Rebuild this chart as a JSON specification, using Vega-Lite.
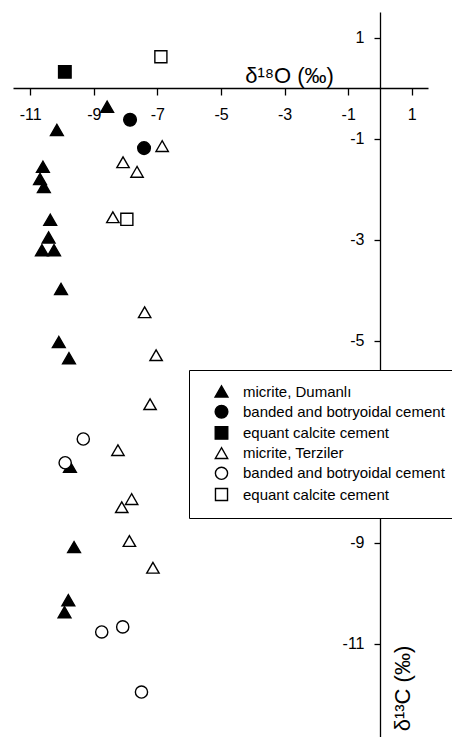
{
  "$schema": "https://vega.github.io/schema/vega-lite/v6.json",
  "autosize": {"type": "none"},
  "padding": {"left": 13, "top": 12, "right": 24, "bottom": 0},
  "width": 415,
  "height": 725,
  "background": "white",
  "config": {
    "font": "Liberation Sans",
    "view": {"stroke": null}
  },
  "data": {
    "values": [
      {"d18O": -8.58, "d13C": -0.37, "type": "micrite, Dumanlı"},
      {"d18O": -10.16, "d13C": -0.83, "type": "micrite, Dumanlı"},
      {"d18O": -10.6, "d13C": -1.56, "type": "micrite, Dumanlı"},
      {"d18O": -10.69, "d13C": -1.8, "type": "micrite, Dumanlı"},
      {"d18O": -10.57, "d13C": -1.96, "type": "micrite, Dumanlı"},
      {"d18O": -10.37, "d13C": -2.61, "type": "micrite, Dumanlı"},
      {"d18O": -10.42, "d13C": -2.96, "type": "micrite, Dumanlı"},
      {"d18O": -10.63, "d13C": -3.21, "type": "micrite, Dumanlı"},
      {"d18O": -10.25, "d13C": -3.21, "type": "micrite, Dumanlı"},
      {"d18O": -10.03, "d13C": -3.98, "type": "micrite, Dumanlı"},
      {"d18O": -10.1, "d13C": -5.03, "type": "micrite, Dumanlı"},
      {"d18O": -9.78, "d13C": -5.35, "type": "micrite, Dumanlı"},
      {"d18O": -9.75, "d13C": -7.5, "type": "micrite, Dumanlı"},
      {"d18O": -9.62, "d13C": -9.09, "type": "micrite, Dumanlı"},
      {"d18O": -9.8, "d13C": -10.14, "type": "micrite, Dumanlı"},
      {"d18O": -9.92, "d13C": -10.38, "type": "micrite, Dumanlı"},
      {"d18O": -7.86, "d13C": -0.63, "type": "banded and botryoidal cement (Dumanlı)"},
      {"d18O": -7.42, "d13C": -1.19, "type": "banded and botryoidal cement (Dumanlı)"},
      {"d18O": -9.91, "d13C": 0.32, "type": "equant calcite cement (Dumanlı)"},
      {"d18O": -6.85, "d13C": -1.15, "type": "micrite, Terziler"},
      {"d18O": -8.08, "d13C": -1.47, "type": "micrite, Terziler"},
      {"d18O": -7.64, "d13C": -1.66, "type": "micrite, Terziler"},
      {"d18O": -8.4, "d13C": -2.56, "type": "micrite, Terziler"},
      {"d18O": -7.4, "d13C": -4.44, "type": "micrite, Terziler"},
      {"d18O": -7.04, "d13C": -5.29, "type": "micrite, Terziler"},
      {"d18O": -7.23, "d13C": -6.26, "type": "micrite, Terziler"},
      {"d18O": -8.24, "d13C": -7.17, "type": "micrite, Terziler"},
      {"d18O": -7.81, "d13C": -8.14, "type": "micrite, Terziler"},
      {"d18O": -8.12, "d13C": -8.3, "type": "micrite, Terziler"},
      {"d18O": -7.88, "d13C": -8.97, "type": "micrite, Terziler"},
      {"d18O": -7.14, "d13C": -9.5, "type": "micrite, Terziler"},
      {"d18O": -9.33, "d13C": -6.95, "type": "banded and botryoidal cement (Terziler)"},
      {"d18O": -9.9, "d13C": -7.42, "type": "banded and botryoidal cement (Terziler)"},
      {"d18O": -8.75, "d13C": -10.77, "type": "banded and botryoidal cement (Terziler)"},
      {"d18O": -8.09, "d13C": -10.67, "type": "banded and botryoidal cement (Terziler)"},
      {"d18O": -7.5, "d13C": -11.96, "type": "banded and botryoidal cement (Terziler)"},
      {"d18O": -6.89, "d13C": 0.62, "type": "equant calcite cement (Terziler)"},
      {"d18O": -7.96, "d13C": -2.6, "type": "equant calcite cement (Terziler)"}
    ]
  },
  "mark": {"type": "point", "filled": true, "stroke": "black", "strokeWidth": 1.4, "opacity": 1, "fillOpacity": 1},
  "encoding": {
    "x": {
      "field": "d18O", "type": "quantitative",
      "scale": {"domain": [-11.54, 1.509], "nice": false, "zero": false},
      "axis": {
        "orient": "bottom", "offset": -649, "values": [-11, -9, -7, -5, -3, -1, 1],
        "labelExpr": "'' + datum.value",
        "grid": false, "tickSize": 7, "tickWidth": 1.3, "tickColor": "black",
        "domainColor": "black", "domainWidth": 1.3,
        "labelFontSize": 16, "labelColor": "black", "labelPadding": 11,
        "labelFlush": false, "labelOverlap": false,
        "title": "δ¹⁸O (‰)", "titleX": 276, "titleY": -6, "titleAlign": "center",
        "titleBaseline": "alphabetic", "titleFontSize": 22, "titleFontWeight": "normal", "titleColor": "black"
      }
    },
    "y": {
      "field": "d13C", "type": "quantitative",
      "scale": {"domain": [-12.85, 1.505], "nice": false, "zero": false},
      "axis": {
        "orient": "left", "offset": -367, "values": [1, -1, -3, -5, -9, -11],
        "labelExpr": "'' + datum.value",
        "grid": false, "tickSize": 6, "tickWidth": 1.3, "tickColor": "black",
        "domainColor": "black", "domainWidth": 1.3,
        "labelFontSize": 16, "labelColor": "black", "labelPadding": 10,
        "labelFlush": false, "labelOverlap": false,
        "title": "δ¹³C (‰)", "titleAngle": 270, "titleX": 29, "titleY": 676, "titleAlign": "center",
        "titleBaseline": "alphabetic", "titleFontSize": 22, "titleFontWeight": "normal", "titleColor": "black"
      }
    },
    "shape": {
      "field": "type", "type": "nominal",
      "scale": {
        "domain": ["micrite, Dumanlı", "banded and botryoidal cement (Dumanlı)", "equant calcite cement (Dumanlı)", "micrite, Terziler", "banded and botryoidal cement (Terziler)", "equant calcite cement (Terziler)"],
        "range": ["triangle-up", "circle", "square", "triangle-up", "circle", "square"]
      },
      "legend": {
        "orient": "none", "legendX": 176, "legendY": 358, "title": null,
        "fillColor": "white", "strokeColor": "black",
        "padding": 14, "symbolOffset": 11, "rowPadding": 2.2, "labelOffset": 14,
        "labelFontSize": 15, "labelColor": "black", "labelLimit": 400,
        "symbolStrokeColor": "black", "symbolStrokeWidth": 1.4,
        "labelExpr": "indexof(datum.label, ' (') > 0 ? substring(datum.label, 0, indexof(datum.label, ' (')) : datum.label"
      }
    },
    "fill": {
      "field": "type", "type": "nominal",
      "scale": {
        "domain": ["micrite, Dumanlı", "banded and botryoidal cement (Dumanlı)", "equant calcite cement (Dumanlı)", "micrite, Terziler", "banded and botryoidal cement (Terziler)", "equant calcite cement (Terziler)"],
        "range": ["black", "black", "black", "white", "white", "white"]
      }
    },
    "size": {
      "field": "type", "type": "nominal",
      "scale": {
        "domain": ["micrite, Dumanlı", "banded and botryoidal cement (Dumanlı)", "equant calcite cement (Dumanlı)", "micrite, Terziler", "banded and botryoidal cement (Terziler)", "equant calcite cement (Terziler)"],
        "range": [165, 145, 115, 150, 130, 110]
      }
    }
  }
}
